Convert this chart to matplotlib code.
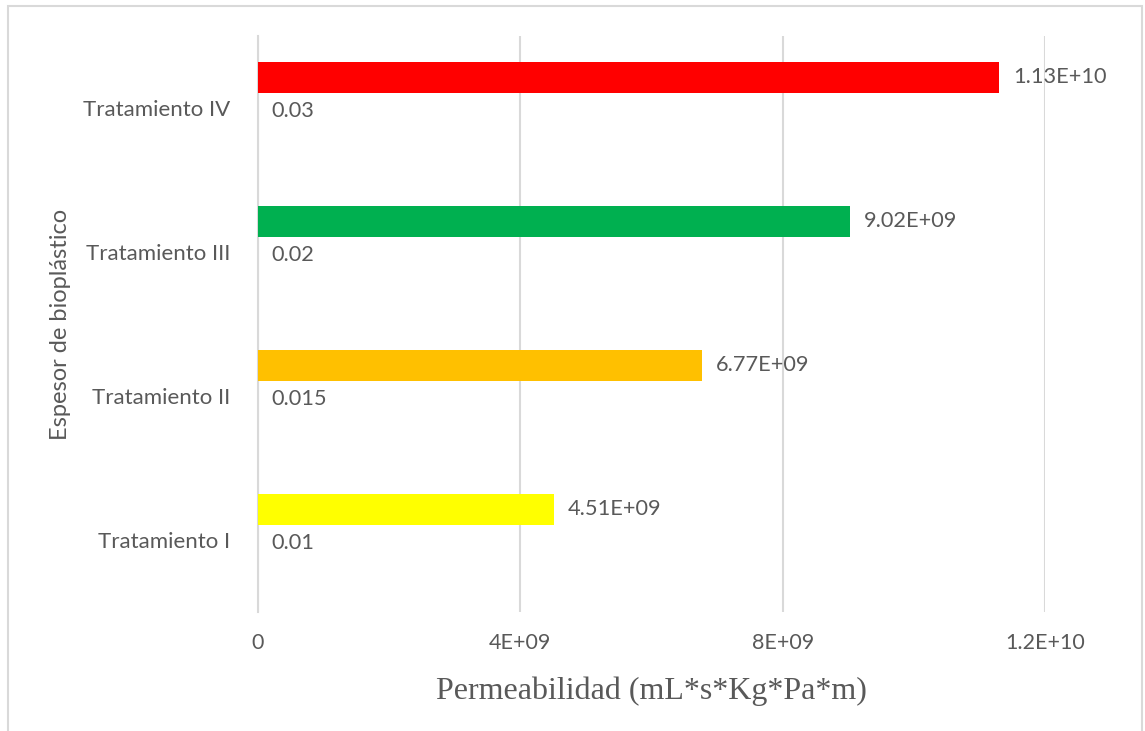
import numpy as np
import matplotlib.pyplot as plt
from matplotlib.patches import Rectangle

# datos: permeabilidad y espesor por tratamiento
tratamientos = ['Tratamiento I', 'Tratamiento II', 'Tratamiento III', 'Tratamiento IV']
permeabilidad = [4.51e9, 6.77e9, 9.02e9, 1.13e10]
permeabilidad_txt = ['4.51E+09', '6.77E+09', '9.02E+09', '1.13E+10']
espesor = [0.01, 0.015, 0.02, 0.03]
colores = ['#FFFF00', '#FFC000', '#00B050', '#FF0000']
xticks = [0, 4e9, 8e9, 1.2e10]
xtick_txt = ['0', '4E+09', '8E+09', '1.2E+10']

gris = '#595959'
linea = '#D9D9D9'
fuente = 'Lato'

fig = plt.figure(figsize=(11.45, 7.31), dpi=100)
W, H = 1145, 731

# marco del grafico
fig.patches.append(Rectangle((8 / W, -0.01), (1142 - 8) / W, 1.01 - 6 / H,
                             transform=fig.transFigure, fill=False,
                             edgecolor=linea, lw=1.5))

ax = fig.add_axes([258 / W, 1 - 612 / H, (1045 - 258) / W, (612 - 36) / H])

y = np.arange(len(tratamientos))
alto = 31 / 144
ax.barh(y + 0.212, permeabilidad, height=alto, color=colores, zorder=3)
ax.barh(y, espesor, height=alto, color='#4472C4', zorder=3)

for yi, v, t in zip(y, permeabilidad, permeabilidad_txt):
    ax.annotate(t, (v, yi + 0.212), xytext=(10, 0), textcoords='offset points',
                va='center', ha='left', color=gris, fontsize=15.7, family=fuente)
for yi, v in zip(y, espesor):
    ax.annotate(str(v), (v, yi - 0.02), xytext=(9.5, 0), textcoords='offset points',
                va='center', ha='left', color=gris, fontsize=15.7, family=fuente)

ax.set_xlim(0, 1.2e10)
ax.set_ylim(-0.5, 3.5)
ax.set_xticks(xticks)
ax.set_xticklabels(xtick_txt, color=gris, fontsize=15.5, family=fuente)
ax.set_yticks(y)
ax.set_yticklabels(tratamientos, color=gris, fontsize=16, family=fuente)
ax.tick_params(axis='x', length=0, pad=15)
ax.tick_params(axis='y', length=0, pad=20)
ax.grid(axis='x', color=linea, lw=1.5, zorder=0)
for s in ['top', 'right', 'bottom']:
    ax.spines[s].set_visible(False)
ax.spines['left'].set_color(linea)
ax.spines['left'].set_linewidth(1.5)

ax.set_xlabel('Permeabilidad (mL*s*Kg*Pa*m)', family='Liberation Serif',
              fontsize=23, color=gris, labelpad=17)
fig.text(61 / W, 1 - 324 / H, 'Espesor de bioplástico', rotation=90,
         ha='center', va='center', color=gris, fontsize=17, family=fuente)

fig.savefig('out.png', dpi=100)
